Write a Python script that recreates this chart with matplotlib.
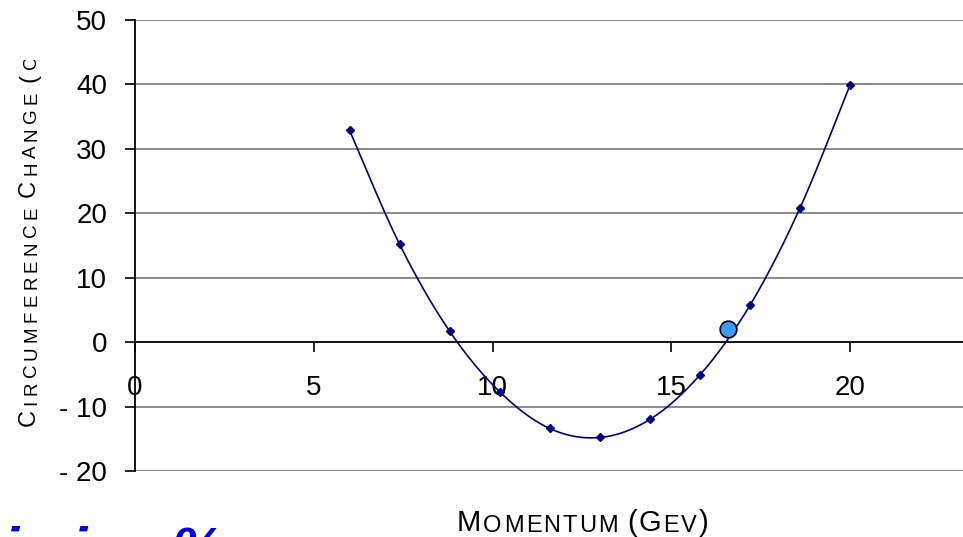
import numpy as np
import matplotlib
matplotlib.use("Agg")
import matplotlib.pyplot as plt
from matplotlib.transforms import Bbox, TransformedBbox

plt.rcParams['font.family'] = ['Liberation Sans', 'DejaVu Sans']

# data
momentum = [6.0, 7.4, 8.8, 10.2, 11.6, 13.0, 14.4, 15.8, 17.2, 18.6, 20.0]
change = [32.9, 15.2, 1.7, -7.7, -13.4, -14.8, -12.0, -5.1, 5.7, 20.8, 39.9]
marked_x = [16.6]
marked_y = [2.0]
x_ticks = [0, 5, 10, 15, 20]
y_ticks = [-20, -10, 0, 10, 20, 30, 40, 50]
y_tick_labels = ['- 20', '- 10', '0', '10', '20', '30', '40', '50']


def catmull_rom(x, y, n=40):
    # smooth line through the points, like a spreadsheet "smoothed line"
    px = np.concatenate([[x[0]], x, [x[-1]]])
    py = np.concatenate([[y[0]], y, [y[-1]]])
    t = np.linspace(0, 1, n)
    xs, ys = [], []
    for i in range(1, len(px) - 2):
        for p, out in ((px, xs), (py, ys)):
            p0, p1, p2, p3 = p[i - 1], p[i], p[i + 1], p[i + 2]
            out.append(0.5 * (2 * p1 + (-p0 + p2) * t
                              + (2 * p0 - 5 * p1 + 4 * p2 - p3) * t ** 2
                              + (-p0 + 3 * p1 - 3 * p2 + p3) * t ** 3))
    return np.concatenate(xs), np.concatenate(ys)


def caps_text(ax, x, y, parts, rotation=0, track=2.0, clip=None):
    # draw small caps letter by letter, chained to the previous letter
    prev = None
    gap = 0.0
    for s, size in parts:
        for ch in s:
            if ch == ' ':
                gap += 0.3 * size
                continue
            if prev is None:
                if rotation == 90:
                    t = ax.figure.text(x, y, ch, fontsize=size, rotation=90,
                                       ha='right', va='bottom')
                else:
                    t = ax.figure.text(x, y, ch, fontsize=size,
                                       ha='left', va='bottom')
            else:
                if rotation == 90:
                    t = ax.annotate(ch, xy=(1, 1), xycoords=prev,
                                    xytext=(0, track + gap), textcoords='offset points',
                                    fontsize=size, rotation=90, ha='right', va='bottom',
                                    annotation_clip=False)
                else:
                    t = ax.annotate(ch, xy=(1, 0), xycoords=prev,
                                    xytext=(track + gap, 0), textcoords='offset points',
                                    fontsize=size, ha='left', va='bottom',
                                    annotation_clip=False)
            if clip is not None:
                t.set_clip_box(clip)
                t.set_clip_on(True)
            gap = 0.0
            prev = t


W, H = 963, 537
fig = plt.figure(figsize=(W / 100, H / 100), dpi=100)
x0, x_unit = 135, 35.75
ax = fig.add_axes([x0 / W, (H - 471) / H, 1 - x0 / W, (471 - 20) / H])
ax.set_xlim(0, (W - x0) / x_unit)
ax.set_ylim(-20, 50)

for v in y_ticks:
    if v != 0:
        ax.axhline(v, color='#808080', lw=1.3, zorder=1)

ax.spines['top'].set_visible(False)
ax.spines['right'].set_visible(False)
ax.spines['bottom'].set_position(('data', 0))
ax.spines['bottom'].set_linewidth(1.3)
ax.spines['left'].set_linewidth(1.3)

ax.set_xticks(x_ticks)
ax.set_xticklabels([str(v) for v in x_ticks])
ax.set_yticks(y_ticks)
ax.set_yticklabels(y_tick_labels)
ax.tick_params(axis='x', direction='out', length=7, width=1.2, pad=17, labelsize=20)
ax.tick_params(axis='y', direction='out', length=7, width=1.2, pad=13, labelsize=20)

sx, sy = catmull_rom(np.array(momentum), np.array(change))
ax.plot(sx, sy, color='#000080', lw=1.2, zorder=3)
ax.plot(momentum, change, 'D', color='#000080', ms=4.5, zorder=4)
ax.plot(marked_x, marked_y, 'o', color='#3d9bf5', mec='black', mew=1.2, ms=12, zorder=5)

clip = TransformedBbox(Bbox([[0, 0], [1, (H - 60) / H]]), fig.transFigure)
caps_text(ax, 40 / W, (H - 426) / H,
          [('C', 17), ('IRCUMFERENCE ', 13.5), ('C', 17), ('HANGE ', 13.5),
           ('(', 17), ('CM)', 13.5)],
          rotation=90, track=3.1, clip=clip)

caps_text(ax, 457 / W, 0.0,
          [('M', 21), ('OMENTUM ', 17), ('(', 21), ('G', 21), ('EV', 17), (')', 21)],
          track=1.5)

# slide title below the chart, only its top edge shows in the picture
fig.text(3 / W, (H - 567) / H, 'imin   %', fontsize=42, fontweight='bold',
         fontstyle='italic', color='#0000dd', va='baseline')

fig.savefig('out.png', dpi=100)
